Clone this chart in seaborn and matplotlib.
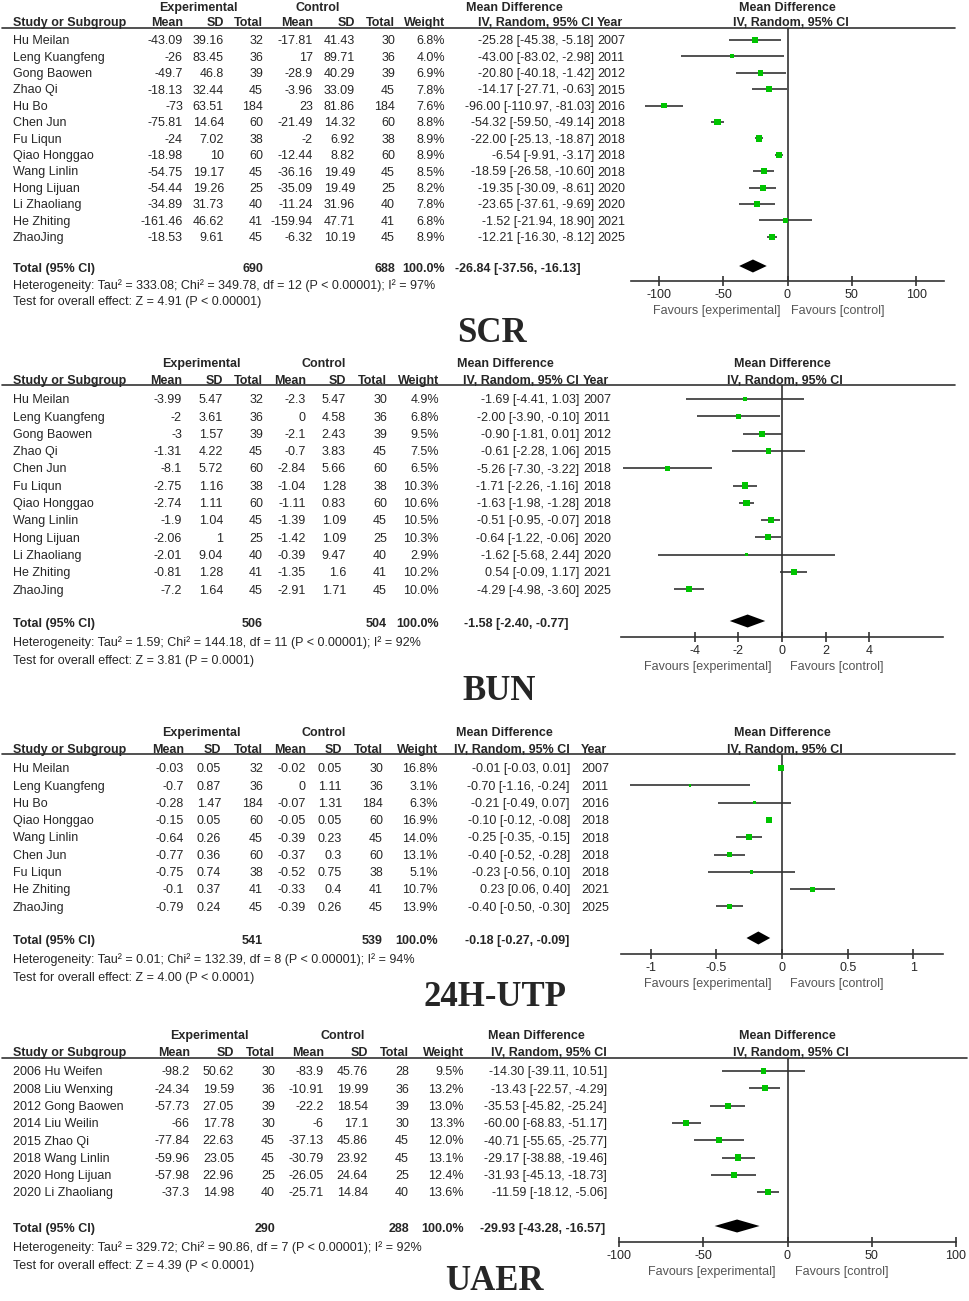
import matplotlib
matplotlib.use("Agg")
import matplotlib.pyplot as plt
import seaborn as sns
import pandas as pd

# ---- SCR
scr_study = ["Hu Meilan", "Leng Kuangfeng", "Gong Baowen", "Zhao Qi", "Hu Bo", "Chen Jun", "Fu Liqun",
             "Qiao Honggao", "Wang Linlin", "Hong Lijuan", "Li Zhaoliang", "He Zhiting", "ZhaoJing"]
scr_exp_mean = [-43.09, -26, -49.7, -18.13, -73, -75.81, -24, -18.98, -54.75, -54.44, -34.89, -161.46, -18.53]
scr_exp_sd = [39.16, 83.45, 46.8, 32.44, 63.51, 14.64, 7.02, 10, 19.17, 19.26, 31.73, 46.62, 9.61]
scr_exp_n = [32, 36, 39, 45, 184, 60, 38, 60, 45, 25, 40, 41, 45]
scr_ctl_mean = [-17.81, 17, -28.9, -3.96, 23, -21.49, -2, -12.44, -36.16, -35.09, -11.24, -159.94, -6.32]
scr_ctl_sd = [41.43, 89.71, 40.29, 33.09, 81.86, 14.32, 6.92, 8.82, 19.49, 19.49, 31.96, 47.71, 10.19]
scr_ctl_n = [30, 36, 39, 45, 184, 60, 38, 60, 45, 25, 40, 41, 45]
scr_weight = [6.8, 4.0, 6.9, 7.8, 7.6, 8.8, 8.9, 8.9, 8.5, 8.2, 7.8, 6.8, 8.9]
scr_md = [-25.28, -43.00, -20.80, -14.17, -96.00, -54.32, -22.00, -6.54, -18.59, -19.35, -23.65, -1.52, -12.21]
scr_lo = [-45.38, -83.02, -40.18, -27.71, -110.97, -59.50, -25.13, -9.91, -26.58, -30.09, -37.61, -21.94, -16.30]
scr_hi = [-5.18, -2.98, -1.42, -0.63, -81.03, -49.14, -18.87, -3.17, -10.60, -8.61, -9.69, 18.90, -8.12]
scr_year = [2007, 2011, 2012, 2015, 2016, 2018, 2018, 2018, 2018, 2020, 2020, 2021, 2025]
scr_total = [690, 688]
scr_pooled = [-26.84, -37.56, -16.13]
scr_het = "Heterogeneity: Tau² = 333.08; Chi² = 349.78, df = 12 (P < 0.00001); I² = 97%"
scr_test = "Test for overall effect: Z = 4.91 (P < 0.00001)"
scr_ticks = [-100, -50, 0, 50, 100]

# ---- BUN
bun_study = ["Hu Meilan", "Leng Kuangfeng", "Gong Baowen", "Zhao Qi", "Chen Jun", "Fu Liqun", "Qiao Honggao",
             "Wang Linlin", "Hong Lijuan", "Li Zhaoliang", "He Zhiting", "ZhaoJing"]
bun_exp_mean = [-3.99, -2, -3, -1.31, -8.1, -2.75, -2.74, -1.9, -2.06, -2.01, -0.81, -7.2]
bun_exp_sd = [5.47, 3.61, 1.57, 4.22, 5.72, 1.16, 1.11, 1.04, 1, 9.04, 1.28, 1.64]
bun_exp_n = [32, 36, 39, 45, 60, 38, 60, 45, 25, 40, 41, 45]
bun_ctl_mean = [-2.3, 0, -2.1, -0.7, -2.84, -1.04, -1.11, -1.39, -1.42, -0.39, -1.35, -2.91]
bun_ctl_sd = [5.47, 4.58, 2.43, 3.83, 5.66, 1.28, 0.83, 1.09, 1.09, 9.47, 1.6, 1.71]
bun_ctl_n = [30, 36, 39, 45, 60, 38, 60, 45, 25, 40, 41, 45]
bun_weight = [4.9, 6.8, 9.5, 7.5, 6.5, 10.3, 10.6, 10.5, 10.3, 2.9, 10.2, 10.0]
bun_md = [-1.69, -2.00, -0.90, -0.61, -5.26, -1.71, -1.63, -0.51, -0.64, -1.62, 0.54, -4.29]
bun_lo = [-4.41, -3.90, -1.81, -2.28, -7.30, -2.26, -1.98, -0.95, -1.22, -5.68, -0.09, -4.98]
bun_hi = [1.03, -0.10, 0.01, 1.06, -3.22, -1.16, -1.28, -0.07, -0.06, 2.44, 1.17, -3.60]
bun_year = [2007, 2011, 2012, 2015, 2018, 2018, 2018, 2018, 2020, 2020, 2021, 2025]
bun_total = [506, 504]
bun_pooled = [-1.58, -2.40, -0.77]
bun_het = "Heterogeneity: Tau² = 1.59; Chi² = 144.18, df = 11 (P < 0.00001); I² = 92%"
bun_test = "Test for overall effect: Z = 3.81 (P = 0.0001)"
bun_ticks = [-4, -2, 0, 2, 4]

# ---- 24H-UTP
utp_study = ["Hu Meilan", "Leng Kuangfeng", "Hu Bo", "Qiao Honggao", "Wang Linlin", "Chen Jun", "Fu Liqun",
             "He Zhiting", "ZhaoJing"]
utp_exp_mean = [-0.03, -0.7, -0.28, -0.15, -0.64, -0.77, -0.75, -0.1, -0.79]
utp_exp_sd = [0.05, 0.87, 1.47, 0.05, 0.26, 0.36, 0.74, 0.37, 0.24]
utp_exp_n = [32, 36, 184, 60, 45, 60, 38, 41, 45]
utp_ctl_mean = [-0.02, 0, -0.07, -0.05, -0.39, -0.37, -0.52, -0.33, -0.39]
utp_ctl_sd = [0.05, 1.11, 1.31, 0.05, 0.23, 0.3, 0.75, 0.4, 0.26]
utp_ctl_n = [30, 36, 184, 60, 45, 60, 38, 41, 45]
utp_weight = [16.8, 3.1, 6.3, 16.9, 14.0, 13.1, 5.1, 10.7, 13.9]
utp_md = [-0.01, -0.70, -0.21, -0.10, -0.25, -0.40, -0.23, 0.23, -0.40]
utp_lo = [-0.03, -1.16, -0.49, -0.12, -0.35, -0.52, -0.56, 0.06, -0.50]
utp_hi = [0.01, -0.24, 0.07, -0.08, -0.15, -0.28, 0.10, 0.40, -0.30]
utp_year = [2007, 2011, 2016, 2018, 2018, 2018, 2018, 2021, 2025]
utp_total = [541, 539]
utp_pooled = [-0.18, -0.27, -0.09]
utp_het = "Heterogeneity: Tau² = 0.01; Chi² = 132.39, df = 8 (P < 0.00001); I² = 94%"
utp_test = "Test for overall effect: Z = 4.00 (P < 0.0001)"
utp_ticks = [-1, -0.5, 0, 0.5, 1]

# ---- UAER
uaer_study = ["2006 Hu Weifen", "2008 Liu Wenxing", "2012 Gong Baowen", "2014 Liu Weilin", "2015 Zhao Qi",
              "2018 Wang Linlin", "2020 Hong Lijuan", "2020 Li Zhaoliang"]
uaer_exp_mean = [-98.2, -24.34, -57.73, -66, -77.84, -59.96, -57.98, -37.3]
uaer_exp_sd = [50.62, 19.59, 27.05, 17.78, 22.63, 23.05, 22.96, 14.98]
uaer_exp_n = [30, 36, 39, 30, 45, 45, 25, 40]
uaer_ctl_mean = [-83.9, -10.91, -22.2, -6, -37.13, -30.79, -26.05, -25.71]
uaer_ctl_sd = [45.76, 19.99, 18.54, 17.1, 45.86, 23.92, 24.64, 14.84]
uaer_ctl_n = [28, 36, 39, 30, 45, 45, 25, 40]
uaer_weight = [9.5, 13.2, 13.0, 13.3, 12.0, 13.1, 12.4, 13.6]
uaer_md = [-14.30, -13.43, -35.53, -60.00, -40.71, -29.17, -31.93, -11.59]
uaer_lo = [-39.11, -22.57, -45.82, -68.83, -55.65, -38.88, -45.13, -18.12]
uaer_hi = [10.51, -4.29, -25.24, -51.17, -25.77, -19.46, -18.73, -5.06]
uaer_year = None
uaer_total = [290, 288]
uaer_pooled = [-29.93, -43.28, -16.57]
uaer_het = "Heterogeneity: Tau² = 329.72; Chi² = 90.86, df = 7 (P < 0.00001); I² = 92%"
uaer_test = "Test for overall effect: Z = 4.39 (P < 0.0001)"
uaer_ticks = [-100, -50, 0, 50, 100]

# ---- layout (figure pixels, y downwards)
scr_lay = dict(top=7, hdr=22, line=28, row0=40, dy=16.4, total=268, het=285, test=301, label=(492, 333),
               cols=dict(em=183, esd=224, en=263, cm=313, csd=355, cn=395, w=445, ci=594, year=597,
                         exp=198, ctl=318, md=514, totci=581),
               fx=(631, 944), xlim=(-121.5, 121.5), axis=281, line_end=955, fav=(717, 838))
bun_lay = dict(top=363, hdr=380, line=385, row0=399, dy=17.3, total=623, het=642, test=660, label=(499, 692),
               cols=dict(em=182, esd=223, en=263, cm=306, csd=346, cn=387, w=439, ci=579, year=583,
                         exp=201, ctl=324, md=505, totci=569),
               fx=(621, 943), xlim=(-7.4, 7.4), axis=637, line_end=955, fav=(708, 837))
utp_lay = dict(top=732, hdr=749, line=754, row0=768, dy=17.3, total=940, het=959, test=977, label=(495, 997),
               cols=dict(em=184, esd=221, en=263, cm=306, csd=342, cn=383, w=438, ci=570, year=581,
                         exp=201, ctl=324, md=504, totci=569),
               fx=(621, 943), xlim=(-1.225, 1.225), axis=954, line_end=955, fav=(708, 837))
uaer_lay = dict(top=1035, hdr=1052, line=1058, row0=1071, dy=17.3, total=1228, het=1247, test=1265,
                label=(494, 1281),
                cols=dict(em=190, esd=234, en=275, cm=324, csd=368, cn=409, w=464, ci=607, year=None,
                          exp=209, ctl=343, md=536, totci=605),
                fx=(619, 956), xlim=(-100, 100), axis=1242, line_end=967, fav=(712, 842))

panels = [
    ("SCR", scr_study, scr_exp_mean, scr_exp_sd, scr_exp_n, scr_ctl_mean, scr_ctl_sd, scr_ctl_n, scr_weight,
     scr_md, scr_lo, scr_hi, scr_year, scr_total, scr_pooled, scr_het, scr_test, scr_ticks, scr_lay),
    ("BUN", bun_study, bun_exp_mean, bun_exp_sd, bun_exp_n, bun_ctl_mean, bun_ctl_sd, bun_ctl_n, bun_weight,
     bun_md, bun_lo, bun_hi, bun_year, bun_total, bun_pooled, bun_het, bun_test, bun_ticks, bun_lay),
    ("24H-UTP", utp_study, utp_exp_mean, utp_exp_sd, utp_exp_n, utp_ctl_mean, utp_ctl_sd, utp_ctl_n, utp_weight,
     utp_md, utp_lo, utp_hi, utp_year, utp_total, utp_pooled, utp_het, utp_test, utp_ticks, utp_lay),
    ("UAER", uaer_study, uaer_exp_mean, uaer_exp_sd, uaer_exp_n, uaer_ctl_mean, uaer_ctl_sd, uaer_ctl_n,
     uaer_weight, uaer_md, uaer_lo, uaer_hi, uaer_year, uaer_total, uaer_pooled, uaer_het, uaer_test,
     uaer_ticks, uaer_lay),
]

sns.set_theme(style="white")
plt.rcParams['font.family'] = ['Liberation Sans', 'DejaVu Sans']

W, H = 969, 1301
FS = 9
BASE = 4.3          # baseline offset from row centre (px)
GREEN = '#00c400'
INK = '#333333'
FAV = '#555555'

fig = plt.figure(figsize=(W / 100, H / 100), dpi=100)
bg = fig.add_axes([0, 0, 1, 1])
bg.set_xlim(0, W)
bg.set_ylim(H, 0)
bg.axis('off')


def txt(x, y, s, ha='right', bold=False, **kw):
    bg.text(x, y + BASE, s, ha=ha, va='baseline', fontsize=FS,
            fontweight='bold' if bold else 'normal', **kw)


def g(v):
    return f"{v:g}"


for (name, study, em, esd, en, cm, csd, cn, wt, md, lo, hi, year, tot, pooled, het, test, ticks, L) in panels:
    c = L['cols']
    zero_px = L['fx'][0] + (0 - L['xlim'][0]) / (L['xlim'][1] - L['xlim'][0]) * (L['fx'][1] - L['fx'][0])

    # headers
    txt(c['exp'], L['top'], "Experimental", ha='center', bold=True)
    txt(c['ctl'], L['top'], "Control", ha='center', bold=True)
    txt(c['md'], L['top'], "Mean Difference", ha='center', bold=True)
    txt(zero_px, L['top'], "Mean Difference", ha='center', bold=True)
    txt(13, L['hdr'], "Study or Subgroup", ha='left', bold=True)
    for key, lab in [('em', 'Mean'), ('esd', 'SD'), ('en', 'Total'), ('cm', 'Mean'), ('csd', 'SD'),
                     ('cn', 'Total'), ('w', 'Weight'), ('ci', 'IV, Random, 95% CI')]:
        txt(c[key], L['hdr'], lab, bold=True)
    if c['year'] is not None:
        txt(c['year'], L['hdr'], "Year", ha='left', bold=True)
    txt(zero_px + 3, L['hdr'], "IV, Random, 95% CI", ha='center', bold=True)
    bg.plot([2, L['line_end']], [L['line'], L['line']], color=INK, lw=1.2)

    # study rows
    ys = [L['row0'] + i * L['dy'] for i in range(len(study))]
    for i, y in enumerate(ys):
        txt(13, y, study[i], ha='left')
        txt(c['em'], y, g(em[i]))
        txt(c['esd'], y, g(esd[i]))
        txt(c['en'], y, str(en[i]))
        txt(c['cm'], y, g(cm[i]))
        txt(c['csd'], y, g(csd[i]))
        txt(c['cn'], y, str(cn[i]))
        txt(c['w'], y, f"{wt[i]:.1f}%")
        txt(c['ci'], y, f"{md[i]:.2f} [{lo[i]:.2f}, {hi[i]:.2f}]")
        if year is not None:
            txt(c['year'], y, str(year[i]), ha='left')

    # totals
    txt(13, L['total'], "Total (95% CI)", ha='left', bold=True)
    txt(c['en'], L['total'], str(tot[0]), bold=True)
    txt(c['cn'], L['total'], str(tot[1]), bold=True)
    txt(c['w'], L['total'], "100.0%", bold=True)
    txt(c['totci'], L['total'], f"{pooled[0]:.2f} [{pooled[1]:.2f}, {pooled[2]:.2f}]", bold=True)
    txt(13, L['het'], het, ha='left')
    txt(13, L['test'], test, ha='left')

    # outcome label
    bg.text(L['label'][0], L['label'][1], name, ha='center', va='center', fontsize=25,
            fontweight='bold', family=['Liberation Serif', 'DejaVu Serif'])

    # forest plot
    fx0, fx1 = L['fx']
    ax = fig.add_axes([fx0 / W, 1 - L['axis'] / H, (fx1 - fx0) / W, (L['axis'] - L['line']) / H])
    ax.patch.set_alpha(0)
    df = pd.DataFrame({'md': md, 'lo': lo, 'hi': hi, 'w': wt, 'y': ys})
    ax.hlines(df['y'], df['lo'], df['hi'], color=INK, lw=1.2, zorder=2)
    sns.scatterplot(data=df, x='md', y='y', size='w', sizes=(0, 20), size_norm=(0, max(wt)),
                    marker='s', color=GREEN, linewidth=0, legend=False, ax=ax, zorder=3)
    ax.axvline(0, color=INK, lw=1.2, zorder=1)
    dy_ = L['total'] - 2
    ax.fill([pooled[1], pooled[0], pooled[2], pooled[0]], [dy_, dy_ - 6.5, dy_, dy_ + 6.5],
            color='black', lw=0, zorder=3)
    ax.set_xlim(*L['xlim'])
    ax.set_ylim(L['axis'], L['line'])
    ax.set_xlabel('')
    ax.set_ylabel('')
    ax.set_yticks([])
    ax.set_xticks(ticks)
    ax.set_xticklabels([g(t) for t in ticks])
    sns.despine(ax=ax, left=True)
    ax.spines['bottom'].set_color(INK)
    ax.spines['bottom'].set_linewidth(1.2)
    ax.tick_params(axis='x', direction='inout', length=6.5, width=1.2, color=INK, labelsize=FS,
                   pad=2.5, bottom=True)

    # favours labels
    fy = L['axis'] + 29
    bg.text(L['fav'][0], fy + BASE, "Favours [experimental]", ha='center', va='baseline', fontsize=FS,
            color=FAV)
    bg.text(L['fav'][1], fy + BASE, "Favours [control]", ha='center', va='baseline', fontsize=FS, color=FAV)

fig.savefig("out.png", dpi=100, facecolor='white')
